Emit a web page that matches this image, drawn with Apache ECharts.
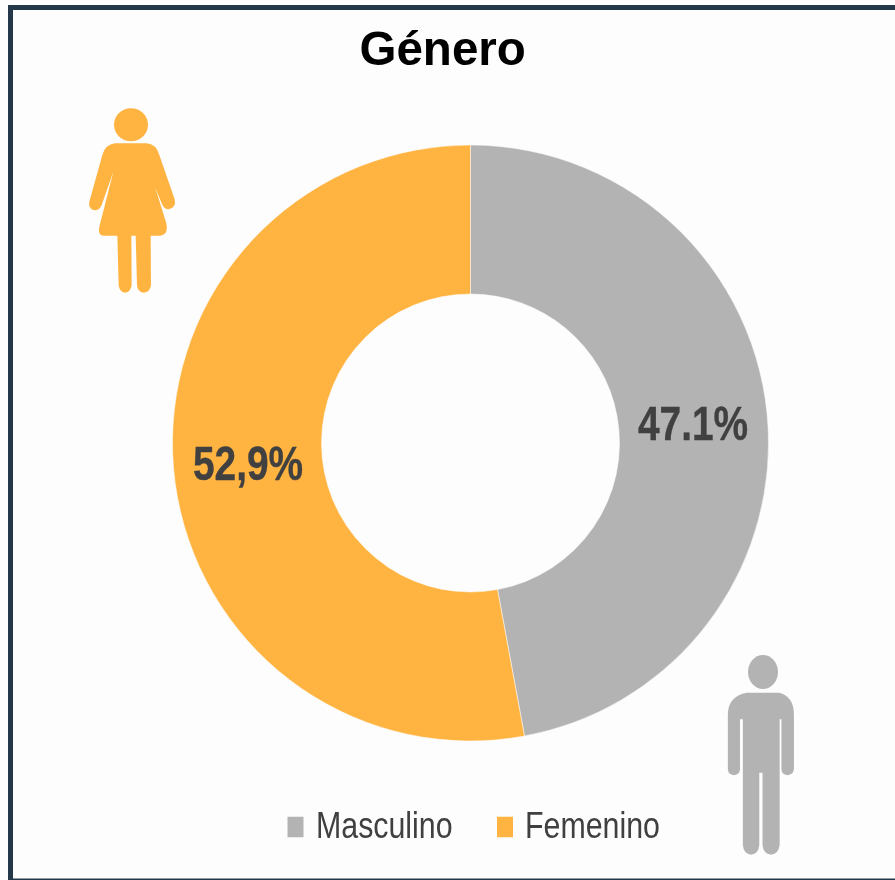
<!DOCTYPE html>
<html>
<head>
<meta charset="utf-8">
<style>
  html, body { margin: 0; padding: 0; background: #fdfdfd; }
  #chart { width: 895px; height: 880px; }
</style>
</head>
<body>
<div id="chart"></div>
<script src="https://cdn.jsdelivr.net/npm/echarts@6/dist/echarts.min.js"></script>
<script>
const categories = ['Masculino', 'Femenino']
const values = [47.1, 52.9]
const valueLabels = ['47.1%', '52,9%']
const colors = ['#b3b3b3', '#ffb441']

const FONT = '"Liberation Sans", Arial, sans-serif'
const FRAME = '#25384a'
const TEXT = '#404040'

const womanPath = 'M165 160 L260 160 Q288 162 298 195 L344 328 Q350 352 326 358 Q312 358 306 342 L265 243 L270 243 L319 400 Q326 435 300 437 L272 437 L273 585 Q270 607 251 608 Q232 606 231 585 L227 437 L214 437 L215 585 Q212 607 195 608 Q178 606 176 585 L172 437 L130 437 Q112 435 118 410 L160 245 L125 345 Q118 362 103 361 Q84 355 88 335 L127 195 Q135 164 165 160 Z'
const manPath = 'M1335 158 L1425 158 Q1467 168 1467 225 L1467 388 Q1465 404 1449 406 Q1433 404 1432 388 L1432 238 L1427 238 L1427 615 Q1424 642 1403 644 Q1381 642 1379 615 L1379 398 L1370 398 L1370 615 Q1368 642 1347 644 Q1326 642 1324 615 L1324 238 L1316 238 L1316 388 Q1315 404 1299 406 Q1283 404 1282 388 L1282 225 Q1282 168 1335 158 Z'

echarts.graphic.registerShape('womanBody', echarts.graphic.extendPath(womanPath))
echarts.graphic.registerShape('manBody', echarts.graphic.extendPath(manPath))

// no narrow font is installed, so the condensed texts are squeezed with scaleX
function narrowText(text, x, y, fontSize, fontWeight, scaleX, textAlign, lineWidth) {
  return {
    type: 'text', x, y, scaleX, z: 10,
    style: {
      text, fontFamily: FONT, fontSize, fontWeight, fill: TEXT, textAlign, textVerticalAlign: 'middle',
      stroke: TEXT, lineWidth: lineWidth || 0,
    },
  }
}

const chart = echarts.init(document.getElementById('chart'), null, { renderer: 'canvas' })

chart.setOption({
  animation: false,
  backgroundColor: '#fdfdfd',
  title: {
    text: 'Género',
    left: 359.5,
    top: 27.5,
    padding: 0,
    textStyle: { fontFamily: FONT, fontSize: 47.5, fontWeight: 'bold', color: '#000' },
  },
  legend: {
    left: 285.5,
    top: 814.75,
    padding: 0,
    itemWidth: 18,
    itemHeight: 22.5,   // the legend draws its icon at 0.8 of this
    itemGap: 189.5,
    icon: 'rect',
    selectedMode: false,
    data: categories,
    formatter: () => '',
  },
  series: [{
    type: 'pie',
    center: [470.5, 443],
    radius: [149, 298],
    startAngle: 90,
    clockwise: true,
    silent: true,
    label: { show: false },
    labelLine: { show: false },
    itemStyle: { borderColor: '#fdfdfd', borderWidth: 0.5 },
    data: categories.map((name, i) => ({ name, value: values[i], itemStyle: { color: colors[i] } })),
  }],
  graphic: [
    // frame: left, top and bottom only
    { type: 'rect', shape: { x: 8, y: 5, width: 5, height: 875 }, style: { fill: FRAME } },
    { type: 'rect', shape: { x: 8, y: 5, width: 887, height: 5 }, style: { fill: FRAME } },
    { type: 'rect', shape: { x: 8, y: 878.5, width: 887, height: 1.5 }, style: { fill: FRAME } },
    // woman
    { type: 'ellipse', shape: { cx: 131, cy: 124.7, rx: 17, ry: 16.5 }, style: { fill: colors[1] } },
    { type: 'womanBody', x: 60, y: 90, scaleX: 1 / 3, scaleY: 1 / 3, style: { fill: colors[1] } },
    // man
    { type: 'ellipse', shape: { cx: 763, cy: 672, rx: 15, ry: 17 }, style: { fill: colors[0] } },
    { type: 'manBody', x: 270, y: 640, scaleX: 1 / 2.8, scaleY: 1 / 3, style: { fill: colors[0] } },
    // slice labels
    narrowText(valueLabels[0], 693, 427, 48, 'bold', 0.81, 'center', 0.4),
    narrowText(valueLabels[1], 248, 467, 48, 'bold', 0.81, 'center', 0.4),
    // legend names
    narrowText(categories[0], 316, 827.5, 37, 'normal', 0.82, 'left'),
    narrowText(categories[1], 525, 827.5, 37, 'normal', 0.82, 'left'),
  ],
})
</script>
</body>
</html>
